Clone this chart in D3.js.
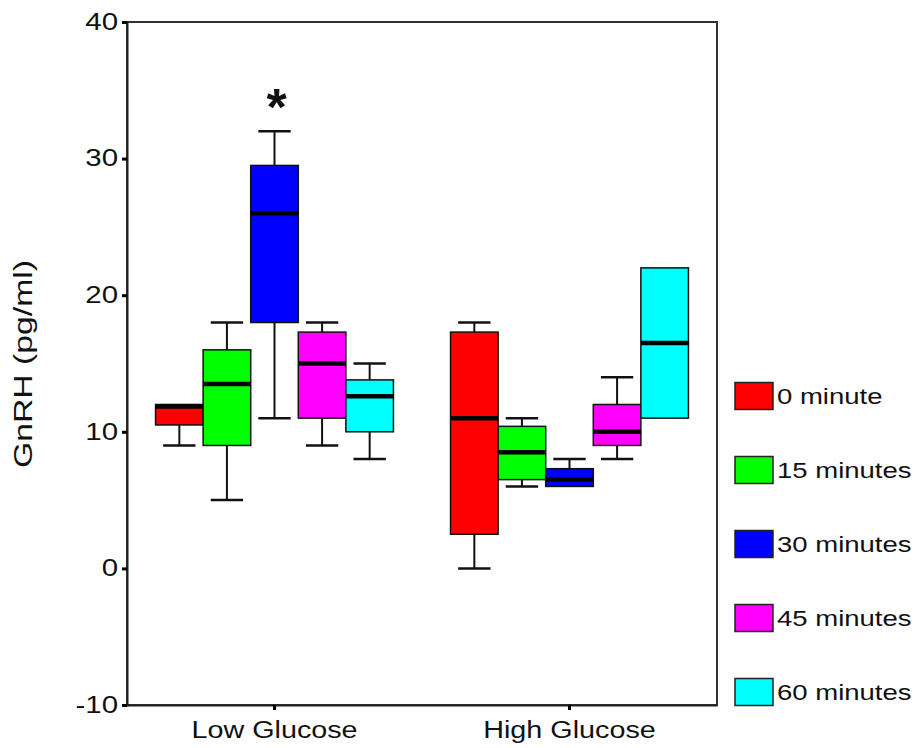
<!DOCTYPE html>
<html>
<head>
<meta charset="utf-8">
<script src="https://cdn.jsdelivr.net/npm/d3@7"></script>
<style>
  html, body { margin: 0; padding: 0; background: #fff; overflow: hidden; }
  svg { display: block; }
  text { font-family: "Liberation Sans", Arial, sans-serif; fill: #111; }
</style>
</head>
<body>
<div class="chart"></div>
<script>
const groups = ['Low Glucose', 'High Glucose'];
const series = ['0 minute', '15 minutes', '30 minutes', '45 minutes', '60 minutes'];
const colors = ['#ff0000', '#00ff00', '#0000ff', '#ff00ff', '#00ffff'];
const yTicks = [-10, 0, 10, 20, 30, 40];

// box stats per time point
const lowMin    = [9, 5, 11, 9, 8];
const lowQ1     = [10.5, 9, 18, 11, 10];
const lowMedian = [12, 13.5, 26, 15, 12.6];
const lowQ3     = [12, 16, 29.5, 17.3, 13.8];
const lowMax    = [12, 18, 32, 18, 15];

const highMin    = [0, 6, 6, 8, 11];
const highQ1     = [2.5, 6.5, 6, 9, 11];
const highMedian = [11, 8.5, 6.5, 10, 16.5];
const highQ3     = [17.3, 10.4, 7.3, 12, 22];
const highMax    = [18, 11, 8, 14, 22];

const stats = [
  { min: lowMin, q1: lowQ1, median: lowMedian, q3: lowQ3, max: lowMax },
  { min: highMin, q1: highQ1, median: highMedian, q3: highQ3, max: highMax }
];

const boxes = [];
groups.forEach((g, gi) => {
  series.forEach((s, si) => {
    const st = stats[gi];
    boxes.push({ group: g, series: s, color: colors[si],
      min: st.min[si], q1: st.q1[si], median: st.median[si], q3: st.q3[si], max: st.max[si] });
  });
});

const margin = { top: 22, right: 207, bottom: 43, left: 127 };
const outerWidth = 924;
const outerHeight = 748;
const innerWidth = outerWidth - margin.left - margin.right;
const innerHeight = outerHeight - margin.top - margin.bottom;

// the original font is wider than Arial, so stretch glyphs a bit
function widen(sel, k) {
  sel.each(function () {
    const w = this.getComputedTextLength();
    d3.select(this)
      .attr('textLength', w * k)
      .attr('lengthAdjust', 'spacingAndGlyphs');
  });
}

const svg = d3.select('.chart')
  .append('svg')
    .attr('width', outerWidth)
    .attr('height', outerHeight);

const chartG = svg.append('g')
  .attr('transform', `translate(${margin.left}, ${margin.top})`);

const y = d3.scaleLinear().domain([-10, 40]).range([innerHeight, 0]);
const x0 = d3.scaleBand().domain(groups).range([0, innerWidth]);
const x1 = d3.scaleBand().domain(series).range([0, x0.bandwidth()]).paddingOuter(0.6);
const bw = x1.bandwidth();

// frame
chartG.append('rect')
  .attr('width', innerWidth)
  .attr('height', innerHeight)
  .attr('fill', 'none')
  .attr('stroke', '#333')
  .attr('stroke-width', 2);

// y axis
const yAxis = chartG.append('g')
  .call(d3.axisLeft(y).tickValues(yTicks).tickSize(5).tickPadding(4).tickFormat(d => String(d)));
yAxis.select('.domain').attr('stroke', '#222').attr('stroke-width', 2);
yAxis.selectAll('.tick line').attr('stroke', '#000').attr('stroke-width', 3);
yAxis.selectAll('.tick text')
  .attr('font-size', 23).attr('fill', '#111')
  .call(widen, 1.28);

// x axis
const xAxis = chartG.append('g')
  .attr('transform', `translate(0, ${innerHeight})`)
  .call(d3.axisBottom(x0).tickSize(5).tickPadding(0).tickSizeOuter(0));
xAxis.select('.domain').attr('stroke', '#222').attr('stroke-width', 2);
xAxis.selectAll('.tick line').attr('stroke', '#000').attr('stroke-width', 3);
xAxis.selectAll('.tick text')
  .attr('y', 33).attr('dy', 0)
  .attr('font-size', 23).attr('fill', '#111')
  .call(widen, 1.25);

// boxes
const boxG = chartG.selectAll('.box')
  .data(boxes)
  .join('g')
    .attr('class', 'box')
    .attr('transform', d => `translate(${x0(d.group) + x1(d.series)}, 0)`);

const cap = bw * 0.68;

// upper whisker
boxG.filter(d => d.max > d.q3).append('line')
  .attr('x1', bw / 2).attr('x2', bw / 2)
  .attr('y1', d => y(d.q3)).attr('y2', d => y(d.max))
  .attr('stroke', '#111').attr('stroke-width', 2);
boxG.filter(d => d.max > d.q3).append('line')
  .attr('x1', (bw - cap) / 2).attr('x2', (bw + cap) / 2)
  .attr('y1', d => y(d.max)).attr('y2', d => y(d.max))
  .attr('stroke', '#111').attr('stroke-width', 2.5);

// lower whisker
boxG.filter(d => d.min < d.q1).append('line')
  .attr('x1', bw / 2).attr('x2', bw / 2)
  .attr('y1', d => y(d.q1)).attr('y2', d => y(d.min))
  .attr('stroke', '#111').attr('stroke-width', 2);
boxG.filter(d => d.min < d.q1).append('line')
  .attr('x1', (bw - cap) / 2).attr('x2', (bw + cap) / 2)
  .attr('y1', d => y(d.min)).attr('y2', d => y(d.min))
  .attr('stroke', '#111').attr('stroke-width', 2.5);

boxG.append('rect')
  .attr('x', 0)
  .attr('width', bw)
  .attr('y', d => y(d.q3))
  .attr('height', d => y(d.q1) - y(d.q3))
  .attr('fill', d => d.color)
  .attr('stroke', '#111')
  .attr('stroke-width', 1.5);

boxG.append('line')
  .attr('x1', 0).attr('x2', bw)
  .attr('y1', d => y(d.median) + (d.median === d.q3 ? 2 : 0))
  .attr('y2', d => y(d.median) + (d.median === d.q3 ? 2 : 0))
  .attr('stroke', '#000')
  .attr('stroke-width', 4.5);

// significance mark over low glucose 30 min
chartG.append('text')
  .attr('x', x0('Low Glucose') + x1('30 minutes') + bw / 2 + 2)
  .attr('y', y(lowMax[2]) - 6)
  .attr('text-anchor', 'middle')
  .attr('font-size', 52)
  .attr('font-weight', 'bold')
  .text('*');

// y label
svg.append('text')
  .attr('transform', 'translate(32, 364) rotate(-90)')
  .attr('text-anchor', 'middle')
  .attr('font-size', 25)
  .text('GnRH (pg/ml)')
  .call(widen, 1.35);

// legend
const legendY = d3.scalePoint().domain(series).range([396, 692]);
const legend = svg.selectAll('.legend')
  .data(series)
  .join('g')
    .attr('class', 'legend')
    .attr('transform', d => `translate(735, ${legendY(d)})`);
legend.append('rect')
  .attr('x', 0).attr('y', -13.5)
  .attr('width', 38).attr('height', 27)
  .attr('fill', (d, i) => colors[i])
  .attr('stroke', '#222')
  .attr('stroke-width', 1.5);
legend.append('text')
  .attr('x', 42)
  .attr('dy', '0.36em')
  .attr('font-size', 22)
  .text(d => d)
  .call(widen, 1.25);
</script>
</body>
</html>
